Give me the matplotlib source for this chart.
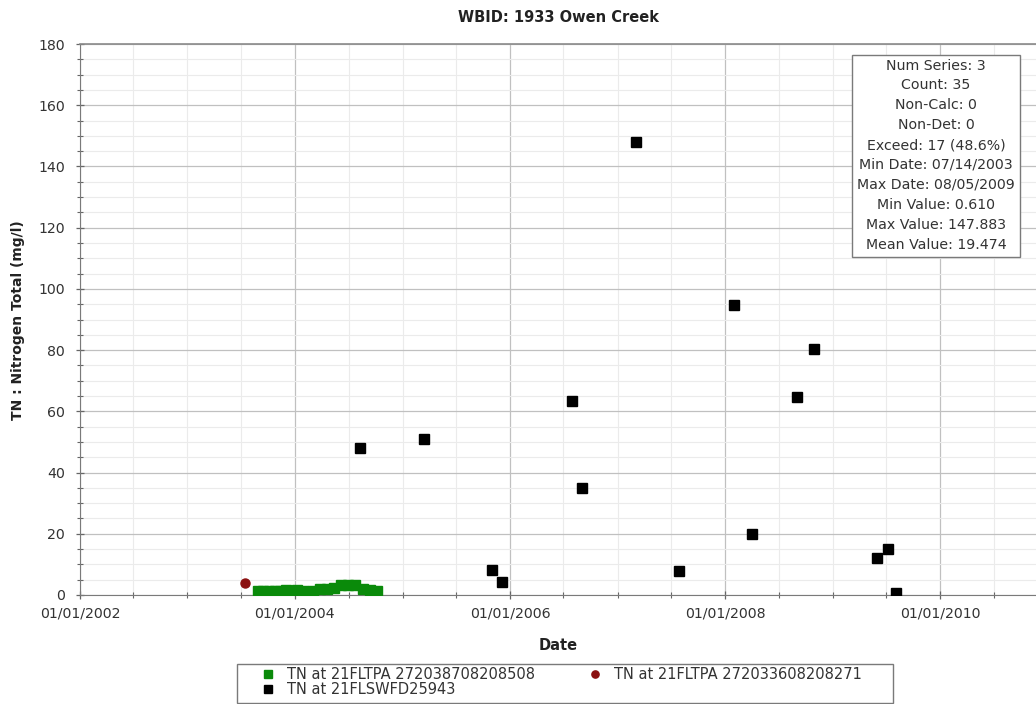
import matplotlib
matplotlib.use("Agg")
import matplotlib.pyplot as plt
import matplotlib.dates as mdates
from matplotlib.patches import Rectangle
import pandas as pd

plt.rcParams['font.family'] = ['DejaVu Sans']

# ---- data ----
green_dates = ["2003-08-28", "2003-09-16", "2003-10-06", "2003-10-24", "2003-11-12",
               "2003-12-02", "2003-12-19", "2004-01-08", "2004-01-27",
               "2004-03-02", "2004-03-26", "2004-04-19", "2004-05-13",
               "2004-06-06", "2004-06-29", "2004-07-23",
               "2004-08-19", "2004-09-12", "2004-10-06"]
green_values = [1.3, 1.2, 1.4, 1.3, 1.2, 1.5, 1.3, 1.6, 1.4,
                1.4, 1.8, 2.0, 2.3,
                3.4, 3.3, 3.2,
                1.9, 1.6, 1.3]

red_dates = ["2003-07-14"]
red_values = [3.9]

black_dates = ["2004-08-09", "2005-03-14", "2005-10-30", "2005-12-03", "2006-07-29",
               "2006-09-03", "2007-03-04", "2007-07-28", "2008-02-01", "2008-03-31",
               "2008-09-02", "2008-10-30", "2009-05-31", "2009-07-07", "2009-08-05"]
black_values = [48.0, 51.0, 8.1, 4.1, 63.5,
                35.0, 147.883, 7.9, 94.8, 19.8,
                64.7, 80.4, 12.2, 14.9, 0.61]

series_labels = ["TN at 21FLTPA 272038708208508",
                 "TN at 21FLTPA 272033608208271",
                 "TN at 21FLSWFD25943"]

stats_lines = ["Num Series: 3", "Count: 35", "Non-Calc: 0", "Non-Det: 0",
               "Exceed: 17 (48.6%)", "Min Date: 07/14/2003", "Max Date: 08/05/2009",
               "Min Value: 0.610", "Max Value: 147.883", "Mean Value: 19.474"]

title = "WBID: 1933 Owen Creek"
xlabel = "Date"
ylabel = "TN : Nitrogen Total (mg/l)"

# ---- figure ----
W, H = 1036, 704
fig = plt.figure(figsize=(W / 100, H / 100), dpi=100)
ax = fig.add_axes([80 / W, 1 - 595 / H, 1 - 80 / W, (595 - 44) / H])

gd = pd.to_datetime(green_dates)
rd = pd.to_datetime(red_dates)
bd = pd.to_datetime(black_dates)

h1, = ax.plot(gd, green_values, linestyle='none', marker='s', markersize=6.8,
              color='#0a8a0a', markeredgecolor='#0a8a0a', zorder=4, label=series_labels[0])
h2, = ax.plot(rd, red_values, linestyle='none', marker='o', markersize=6.5,
              color='#8b1010', markeredgecolor='#8b1010', zorder=4, label=series_labels[1])
h3, = ax.plot(bd, black_values, linestyle='none', marker='s', markersize=7.2,
              color='black', zorder=5, label=series_labels[2])

ax.set_xlim(pd.Timestamp("2002-01-01"), pd.Timestamp("2010-11-22"))
ax.set_ylim(0, 180)

ax.xaxis.set_major_locator(mdates.YearLocator(2))
ax.xaxis.set_minor_locator(mdates.MonthLocator(bymonth=[1, 7]))
ax.xaxis.set_major_formatter(mdates.DateFormatter("%m/%d/%Y"))
ax.set_yticks(range(0, 181, 20))
ax.set_yticks(range(0, 181, 5), minor=True)

ax.grid(which='major', color='#c0c0c0', linewidth=0.9)
ax.grid(which='minor', color='#ebebeb', linewidth=0.8)
ax.set_axisbelow(True)

ax.spines['right'].set_visible(False)
ax.spines['left'].set_color('#7a7a7a')
ax.spines['bottom'].set_color('#7a7a7a')
ax.spines['top'].set_color('#8a8a8a')
ax.spines['top'].set_linewidth(1.2)

ax.tick_params(axis='both', which='both', direction='inout', color='#666666',
               labelcolor='#333333', labelsize=10.2)
ax.tick_params(axis='both', which='major', length=6, width=0.9)
ax.tick_params(axis='both', which='minor', length=4, width=0.8)
ax.tick_params(axis='x', which='major', pad=5)
ax.tick_params(axis='y', which='major', pad=8)

fig.text(558 / W, 1 - 18 / H, title, ha='center', va='center',
         fontsize=10.5, fontweight='bold', color='#222222')
fig.text(558 / W, 1 - 645 / H, xlabel, ha='center', va='center',
         fontsize=10.5, fontweight='bold', color='#222222')
fig.text(18 / W, 1 - 320 / H, ylabel, ha='center', va='center', rotation=90,
         fontsize=10, fontweight='bold', color='#222222')

# stats box
bx0, bx1, by0, by1 = 852, 1020, 55, 257
fig.patches.append(Rectangle((bx0 / W, 1 - by1 / H), (bx1 - bx0) / W, (by1 - by0) / H,
                             transform=fig.transFigure, facecolor='white',
                             edgecolor='#7a7a7a', linewidth=1.0, zorder=10))
for i, line in enumerate(stats_lines):
    fig.text((bx0 + bx1) / 2 / W, 1 - (65.5 + i * 19.9) / H, line, ha='center', va='center',
             fontsize=10.2, color='#333333', zorder=11)

# legend frame
lx0, lx1, ly0, ly1 = 237, 893, 664, 703
fig.patches.append(Rectangle((lx0 / W, 1 - ly1 / H), (lx1 - lx0) / W, (ly1 - ly0) / H,
                             transform=fig.transFigure, facecolor='white',
                             edgecolor='#7a7a7a', linewidth=1.0, zorder=1))
leg = fig.legend(handles=[h1, h3, h2], loc='upper left',
                 bbox_to_anchor=(256 / W, 1 - 667 / H), ncol=2, frameon=False,
                 fontsize=10.5, handlelength=1.6, handletextpad=0.5, columnspacing=3.35,
                 borderpad=0, labelspacing=0.0, markerscale=0.8, borderaxespad=0)
for t in leg.get_texts():
    t.set_color('#333333')

fig.savefig("out.png", dpi=100)
